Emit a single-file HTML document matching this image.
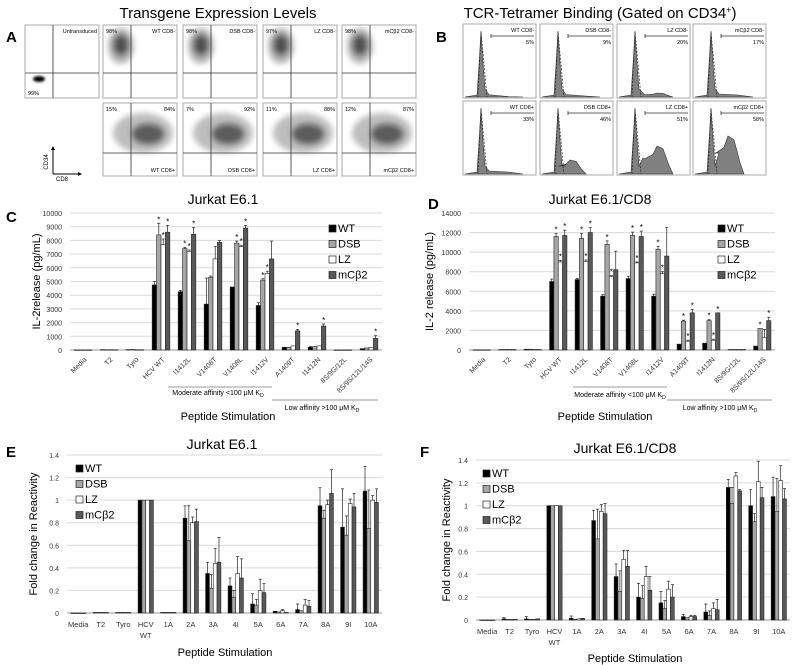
<!DOCTYPE html>
<html><head><meta charset="utf-8"><style>
html,body{margin:0;padding:0;background:#fff;}
svg{display:block;font-family:"Liberation Sans",sans-serif;}
</style></head><body>
<svg id="fig" width="800" height="665" viewBox="0 0 800 665" xmlns="http://www.w3.org/2000/svg">
<defs>
<filter id="blur2" x="-50%" y="-50%" width="200%" height="200%"><feGaussianBlur stdDeviation="3"/></filter>
<filter id="blur1" x="-50%" y="-50%" width="200%" height="200%"><feGaussianBlur stdDeviation="1.2"/></filter>
</defs>
<text x="218" y="18" font-size="15" text-anchor="middle">Transgene Expression Levels</text>
<text x="600" y="18" font-size="15" text-anchor="middle">TCR-Tetramer Binding (Gated on CD34<tspan font-size="9" dy="-5">+</tspan><tspan dy="5">)</tspan></text>
<text x="6" y="42" font-size="15" font-weight="bold">A</text>
<text x="436" y="42" font-size="15" font-weight="bold">B</text>
<text x="6" y="222" font-size="15" font-weight="bold">C</text>
<text x="428" y="209" font-size="15" font-weight="bold">D</text>
<text x="6" y="457" font-size="15" font-weight="bold">E</text>
<text x="420" y="457" font-size="15" font-weight="bold">F</text>
<g id="flow"></g>
<g id="hist"></g>
<g id="chartC"></g>
<g id="chartD"></g>
<g id="chartE"></g>
<g id="chartF"></g>
<g>
<line x1="53" y1="148" x2="53" y2="174" stroke="#000" stroke-width="1"/>
<line x1="53" y1="174" x2="80" y2="174" stroke="#000" stroke-width="1"/>
<polygon points="53,146 51,150 55,150" fill="#000"/>
<polygon points="82,174 78,172 78,176" fill="#000"/>
<text x="48" y="162" font-size="6" text-anchor="middle" transform="rotate(-90 48 162)">CD34</text>
<text x="62" y="181" font-size="6" text-anchor="middle">CD8</text>
</g>
</svg>
<script>
const NS='http://www.w3.org/2000/svg';
function el(parent,tag,attrs,text){const e=document.createElementNS(NS,tag);for(const k in attrs)e.setAttribute(k,attrs[k]);if(text!==undefined)e.textContent=text;parent.appendChild(e);return e;}

// ---------- Panel A: flow plots ----------
const flowLabelsTop=['Untransduced','WT CD8-','DSB CD8-','LZ CD8-','mCβ2 CD8-'];
const flowPctTop=['99%','98%','98%','97%','98%'];
const flowLabelsBot=['WT CD8+','DSB CD8+','LZ CD8+','mCβ2 CD8+'];
const flowPctBotL=['15%','7%','11%','12%'];
const flowPctBotR=['84%','92%','88%','87%'];
const flowX=[25,103,183,263,342];
const flow=document.getElementById('flow');
flowX.forEach((x,i)=>{
  const g=el(flow,'g',{});
  
  
  el(g,'rect',{x:x,y:25,width:74,height:73,fill:'#fff',stroke:'#aaa','stroke-width':1});
  if(i===0){
    el(g,'ellipse',{cx:x+14,cy:79,rx:6,ry:3,fill:'#000',filter:'url(#blur1)'});
  }else{
    el(g,'ellipse',{cx:x+18,cy:46,rx:13,ry:18,fill:'#444',opacity:0.4,filter:'url(#blur2)'});
    el(g,'ellipse',{cx:x+18,cy:45,rx:7,ry:10,fill:'#111',opacity:0.6,filter:'url(#blur2)'});
  }
  el(g,'line',{x1:x+28,y1:25,x2:x+28,y2:98,stroke:'#333','stroke-width':0.8});
  el(g,'line',{x1:x,y1:73,x2:x+74,y2:73,stroke:'#333','stroke-width':0.8});
  el(g,'text',{x:x+72,y:33,'font-size':5.5,'text-anchor':'end'},flowLabelsTop[i]);
  el(g,'text',{x:x+3,y:i===0?95:33,'font-size':5.5},flowPctTop[i]);
});
flowX.slice(1).forEach((x,i)=>{
  const g=el(flow,'g',{});
  
  
  el(g,'rect',{x:x,y:103,width:74,height:73,fill:'#fff',stroke:'#aaa','stroke-width':1});
  el(g,'ellipse',{cx:x+40,cy:133,rx:30,ry:20,fill:'#444',opacity:0.35,filter:'url(#blur2)'});
  el(g,'ellipse',{cx:x+45,cy:134,rx:16,ry:10,fill:'#111',opacity:0.55,filter:'url(#blur2)'});
  el(g,'line',{x1:x+28,y1:103,x2:x+28,y2:176,stroke:'#333','stroke-width':0.8});
  el(g,'line',{x1:x,y1:153,x2:x+74,y2:153,stroke:'#333','stroke-width':0.8});
  el(g,'text',{x:x+72,y:172,'font-size':5.5,'text-anchor':'end'},flowLabelsBot[i]);
  el(g,'text',{x:x+3,y:111,'font-size':5.5},flowPctBotL[i]);
  el(g,'text',{x:x+72,y:111,'font-size':5.5,'text-anchor':'end'},flowPctBotR[i]);
});

// ---------- Panel B: histograms ----------
const histLabelsTop=['WT CD8-','DSB CD8-','LZ CD8-','mCβ2 CD8-'];
const histPctTop=['5%','9%','20%','17%'];
const histLabelsBot=['WT CD8+','DSB CD8+','LZ CD8+','mCβ2 CD8+'];
const histPctBot=['33%','46%','51%','58%'];
const histBumpTop=[0.5,1,4,2];
const histBumpBot=[2,14,28,38];
const histBumpPos=[0,30,40,35];
const histX=[463,540,617,693];
const hist=document.getElementById('hist');
function histPath(x,yb,h,bump,bpos){
  const px=x+18;
  let d=`M${x+2},${yb} L${px-4},${yb-2} L${px-1.5},${yb-h*0.6} L${px},${yb-h} L${px+1.5},${yb-h*0.6} L${px+4},${yb-h*0.12} L${px+8},${yb-bump*0.5-2}`;
  const bx=x+bpos;
  if(bump>3){d+=` L${bx-12},${yb-bump*0.55} L${bx-4},${yb-bump*0.7} L${bx},${yb-bump} L${bx+6},${yb-bump*0.9} L${bx+12},${yb-bump*0.3} L${bx+16},${yb}`;}
  else{d+=` L${x+45},${yb-bump} L${x+60},${yb}`;}
  return d+' Z';
}
histX.forEach((x,i)=>{
  [[24,histLabelsTop,histPctTop,histBumpTop],[101,histLabelsBot,histPctBot,histBumpBot]].forEach((r,row)=>{
    const y=r[0];
    const g=el(hist,'g',{});
    
    
    el(g,'rect',{x:x,y:y,width:73,height:74,fill:'#fff',stroke:'#aaa','stroke-width':1});
    el(g,'path',{d:histPath(x,y+73,66,r[3][i],histBumpPos[i]||40),fill:'#808080',stroke:'#333','stroke-width':0.6});
    el(g,'path',{d:`M${x+15},${y+73} L${x+18},${y+8} L${x+21},${y+40} L${x+24},${y+73}`,fill:'none',stroke:'#222','stroke-width':0.7,'stroke-dasharray':'2,1.5'});
    el(g,'line',{x1:x+28,y1:y+12,x2:x+71,y2:y+12,stroke:'#333','stroke-width':0.8});
    el(g,'line',{x1:x+28,y1:y+10,x2:x+28,y2:y+14,stroke:'#333','stroke-width':0.8});
    el(g,'text',{x:x+71,y:y+8,'font-size':5.5,'text-anchor':'end'},r[1][i]);
    el(g,'text',{x:x+71,y:y+20,'font-size':5.5,'text-anchor':'end'},r[2][i]);
  });
});

// ---------- Bar chart data ----------
const seriesNames=['WT','DSB','LZ','mCβ2'];
const seriesFill=['#000','#a6a6a6','#fff','#595959'];
const cdCats=['Media','T2','Tyro','HCV WT','I1412L','V1408T','V1408L','I1412V','A1409T','I1412N','8S/9G/12L','8S/9S/12L/14S'];
const cWT =[10,30,30,4750,4250,3350,4600,3250,200,200,10,100];
const cDSB=[10,20,40,8400,7400,5300,7800,5100,200,250,10,150];
const cLZ =[10,20,20,7700,7200,6650,7550,5600,300,300,10,200];
const cMC =[10,20,20,8600,8450,7850,8900,6650,1400,1750,10,850];
const cErrWT =[0,0,0,250,100,1900,0,200,0,50,0,0];
const cErrDSB=[0,0,0,850,100,100,150,100,0,0,0,0];
const cErrLZ =[0,0,0,400,100,900,100,150,0,0,0,0];
const cErrMC =[0,0,0,500,500,150,200,1300,100,150,0,200];
const cStarWT=[0,0,0,0,0,0,0,0,0,0,0,0];
const cStarDSB=[0,0,0,1,1,0,1,1,0,0,0,0];
const cStarLZ=[0,0,0,1,1,0,1,1,0,0,0,0];
const cStarMC=[0,0,0,1,1,0,1,0,1,1,0,1];
const cTicks=[0,1000,2000,3000,4000,5000,6000,7000,8000,9000,10000];

const dWT =[20,50,80,7000,7200,5500,7300,5500,600,700,50,400];
const dDSB=[20,50,80,11600,11400,10800,11700,10300,2950,3000,50,2200];
const dLZ =[20,50,50,9000,9050,7500,8900,7800,900,1000,50,1300];
const dMC =[20,50,50,11700,12000,8200,11600,9600,3800,3800,50,3000];
const dErrWT =[0,0,0,250,100,150,250,200,0,0,0,0];
const dErrDSB=[0,0,0,300,500,350,350,300,100,100,0,0];
const dErrLZ =[0,0,0,150,150,100,100,200,100,100,0,800];
const dErrMC =[0,0,0,550,500,1900,550,2900,350,0,0,350];
const dStarWT=[0,0,0,0,0,0,0,0,0,0,0,0];
const dStarDSB=[0,0,0,1,1,1,1,1,1,1,0,1];
const dStarLZ=[0,0,0,1,1,1,1,1,1,1,0,0];
const dStarMC=[0,0,0,1,1,0,1,0,1,1,0,1];
const dTicks=[0,2000,4000,6000,8000,10000,12000,14000];

const efCats=['Media','T2','Tyro','HCV WT','1A','2A','3A','4I','5A','6A','7A','8A','9I','10A'];
const eWT =[0,0.005,0.005,1,0.005,0.84,0.35,0.24,0.08,0.015,0.03,0.95,0.76,1.08];
const eDSB=[0,0.005,0.005,1,0.005,0.64,0.22,0.14,0.07,0.01,0.02,0.84,0.69,0.75];
const eLZ =[0,0.005,0.005,1,0.005,0.80,0.44,0.35,0.20,0.02,0.07,0.96,0.97,1.00];
const eMC =[0,0.005,0.005,1,0.005,0.81,0.45,0.31,0.18,0.005,0.06,1.06,0.94,0.98];
const eErrWT =[0,0,0,0,0,0.11,0.10,0.07,0.09,0,0.05,0.16,0.34,0.22];
const eErrDSB=[0,0,0,0,0,0.31,0.12,0.06,0.05,0,0,0.07,0.17,0.34];
const eErrLZ =[0,0,0,0,0,0.05,0.13,0.15,0.10,0.01,0.05,0.04,0.04,0.04];
const eErrMC =[0,0,0,0,0,0.11,0.22,0.17,0.08,0,0.05,0.21,0.12,0.12];
const efTicks=[0,0.2,0.4,0.6,0.8,1,1.2,1.4];
const efTickLabels=['0','0.2','0.4','0.6','0.8','1','1.2','1.4'];

const fWT =[0,0.01,0.01,1,0.015,0.87,0.38,0.20,0.15,0.03,0.07,1.16,1.00,1.08];
const fDSB=[0,0.005,0.005,1,0.005,0.71,0.25,0.19,0.10,0.02,0.04,1.02,0.86,0.95];
const fLZ =[0,0.005,0.005,1,0.01,0.95,0.53,0.38,0.27,0.03,0.10,1.26,1.21,1.22];
const fMC =[0,0.005,0.01,1,0.015,0.93,0.47,0.26,0.20,0.03,0.09,1.13,1.07,1.06];
const fErrWT =[0,0.01,0.02,0,0.02,0.09,0.11,0.12,0.10,0.02,0.07,0.07,0.14,0.17];
const fErrDSB=[0,0,0,0,0,0.26,0.18,0.11,0.07,0,0.04,0.14,0.07,0.29];
const fErrLZ =[0,0,0,0,0,0.06,0.08,0.09,0.07,0.01,0.05,0.03,0.18,0.13];
const fErrMC =[0,0,0,0,0,0.09,0.14,0.12,0.11,0.01,0.09,0.01,0.09,0.09];

function barChart(g,o){
  const n=o.cats.length;
  const ys=v=>o.y0-(v/o.max)*(o.y0-o.yTop);
  const gw=(o.x1-o.x0)/n;
  const bw=gw*o.bwFrac;
  o.ticks.forEach((t,i)=>{
    const gl=el(g,'line',{x1:o.x0,y1:ys(t),x2:o.x1,y2:ys(t),stroke:i===0?'#999':'#d9d9d9','stroke-width':1});
    
    
    const tl=el(g,'text',{x:o.x0-8,y:ys(t)+3,'font-size':o.tickFont,'text-anchor':'end',fill:'#333'},o.tickLabels?o.tickLabels[i]:String(t));
    
    
  });
  o.series.forEach((s,si)=>{
    s.forEach((v,ci)=>{
      const bx=o.x0+ci*gw+(gw-4*bw)/2+si*bw;
      const top=ys(v);
      const r=el(g,'rect',{x:bx,y:top,width:bw,height:Math.max(0.5,o.y0-top),fill:seriesFill[si],stroke:'#222','stroke-width':0.6});
      
      
      const e=o.errs[si][ci];
      if(e>0){
        const cx=bx+bw/2;
        el(g,'line',{x1:cx,y1:top,x2:cx,y2:ys(v+e),stroke:'#222','stroke-width':0.7});
        el(g,'line',{x1:cx-1.5,y1:ys(v+e),x2:cx+1.5,y2:ys(v+e),stroke:'#222','stroke-width':0.7});
      }
      if(o.stars&&o.stars[si][ci]){
        const st=el(g,'text',{x:bx+bw/2,y:ys(v+e)-1,'font-size':8,'text-anchor':'middle'},'*');
        
        
      }
    });
  });
  o.cats.forEach((c,ci)=>{
    const cx=o.x0+ci*gw+gw/2;
    if(o.rotate){
      const t=el(g,'text',{x:cx+4,y:o.y0+10,'font-size':o.xFont,'text-anchor':'end',fill:'#333',transform:`rotate(-45 ${cx+4} ${o.y0+10})`},c);
      
      
    }else{
      const parts=c==='HCV WT'?['HCV','WT']:[c];
      parts.forEach((p,pi)=>{
        const t=el(g,'text',{x:cx,y:o.y0+14+pi*11,'font-size':o.xFont,'text-anchor':'middle',fill:'#333'},p);
        
        
      });
    }
  });
  const tt=el(g,'text',{x:o.titleX,y:o.titleY,'font-size':14,'text-anchor':'middle'},o.title);
  
  
  const yt=el(g,'text',{x:o.yTitleX,y:(o.y0+o.yTop)/2,'font-size':11,'text-anchor':'middle',transform:`rotate(-90 ${o.yTitleX} ${(o.y0+o.yTop)/2})`},o.yTitle);
  
  
  const xt=el(g,'text',{x:o.xTitleX,y:o.xTitleY,'font-size':11,'text-anchor':'middle'},'Peptide Stimulation');
  
  
  seriesNames.forEach((nm,si)=>{
    const lg=el(g,'g',{});
    
    
    const ly=o.legY+si*15.5;
    el(lg,'rect',{x:o.legX,y:ly-7,width:7,height:7,fill:seriesFill[si],stroke:'#222','stroke-width':0.7});
    el(lg,'text',{x:o.legX+9,y:ly,'font-size':11},nm);
  });
  if(o.brackets){
    o.brackets.forEach(b=>{
      const bg=el(g,'g',{});
      
      
      el(bg,'line',{x1:b[0],y1:b[2],x2:b[1],y2:b[2],stroke:'#777','stroke-width':0.8});
      const t=el(bg,'text',{x:b[3],y:b[4],'font-size':7,'text-anchor':'middle'},b[5]);
      el(t,'tspan',{'font-size':5,dy:2},'D');
    });
  }
}

barChart(document.getElementById('chartC'),{x0:70,x1:382,y0:350,yTop:213,max:10000,ticks:cTicks,cats:cdCats,
  series:[cWT,cDSB,cLZ,cMC],errs:[cErrWT,cErrDSB,cErrLZ,cErrMC],stars:[cStarWT,cStarDSB,cStarLZ,cStarMC],
  bwFrac:0.17,tickFont:7,xFont:7,rotate:true,title:'Jurkat E6.1',titleX:223,titleY:204,yTitle:'IL-2release (pg/mL)',yTitleX:40,
  xTitleX:228,xTitleY:420,legX:329,legY:232,
  brackets:[[168,272,387,218,395,'Moderate affinity <100 μM K'],[272,378,400,322,410,'Low affinity >100 μM K']]});
barChart(document.getElementById('chartD'),{x0:469,x1:775,y0:350,yTop:213,max:14000,ticks:dTicks,cats:cdCats,
  series:[dWT,dDSB,dLZ,dMC],errs:[dErrWT,dErrDSB,dErrLZ,dErrMC],stars:[dStarWT,dStarDSB,dStarLZ,dStarMC],
  bwFrac:0.17,tickFont:7,xFont:7,rotate:true,title:'Jurkat E6.1/CD8',titleX:600,titleY:204,yTitle:'IL-2 release (pg/mL)',yTitleX:433,
  xTitleX:605,xTitleY:420,legX:718,legY:232,
  brackets:[[573,667,387,620,397,'Moderate affinity <100 μM K'],[667,772,400,720,410,'Low affinity >100 μM K']]});
barChart(document.getElementById('chartE'),{x0:67,x1:382,y0:613,yTop:455,max:1.4,ticks:efTicks,tickLabels:efTickLabels,cats:efCats,
  series:[eWT,eDSB,eLZ,eMC],errs:[eErrWT,eErrDSB,eErrLZ,eErrMC],
  bwFrac:0.17,tickFont:7,xFont:7.5,rotate:false,title:'Jurkat E6.1',titleX:222,titleY:449,yTitle:'Fold change in Reactivity',yTitleX:37,
  xTitleX:225,xTitleY:656,legX:76,legY:472});
barChart(document.getElementById('chartF'),{x0:476,x1:790,y0:620,yTop:460,max:1.4,ticks:efTicks,tickLabels:efTickLabels,cats:efCats,
  series:[fWT,fDSB,fLZ,fMC],errs:[fErrWT,fErrDSB,fErrLZ,fErrMC],
  bwFrac:0.17,tickFont:7,xFont:7.5,rotate:false,title:'Jurkat E6.1/CD8',titleX:625,titleY:453,yTitle:'Fold change in Reactivity',yTitleX:450,
  xTitleX:635,xTitleY:662,legX:483,legY:477});
</script>
</body></html>
